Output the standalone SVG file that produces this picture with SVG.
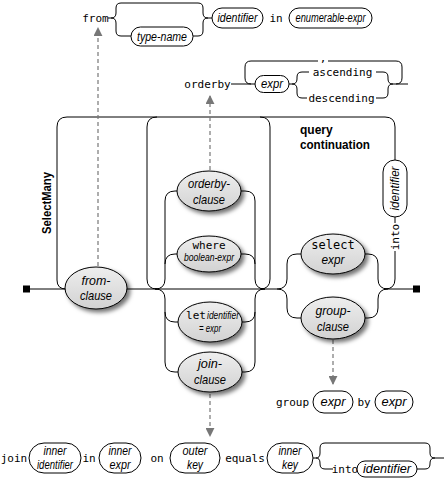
<svg xmlns="http://www.w3.org/2000/svg" width="444" height="490" viewBox="0 0 444 490">
<defs>
<filter id="sh" x="-30%" y="-30%" width="170%" height="180%">
<feDropShadow dx="3" dy="3" stdDeviation="2" flood-color="#000" flood-opacity="0.55"/>
</filter>
<linearGradient id="g" x1="0" y1="0" x2="0" y2="1"><stop offset="0" stop-color="#eeeeee"/><stop offset="1" stop-color="#d2d2d2"/></linearGradient>
<marker id="ar" viewBox="0 0 10 10" refX="9" refY="5" markerWidth="9" markerHeight="9" markerUnits="userSpaceOnUse" orient="auto"><path d="M0,0 L10,5 L0,10 z" fill="#777"/></marker>
</defs>
<style>
.l{fill:none;stroke:#000;stroke-width:1}
.d{fill:none;stroke:#777;stroke-width:1.2;stroke-dasharray:4 3}
.e{fill:url(#g);stroke:#000;stroke-width:1;filter:url(#sh)}
.b{fill:#fff;stroke:#000;stroke-width:1}
.m{font-family:"DejaVu Sans Mono","Liberation Mono",monospace;font-size:11px;fill:#000}
.i{font-family:"Liberation Sans",sans-serif;font-style:italic;font-size:12px;fill:#000}
.s{font-size:10px}
.k{font-family:"Liberation Sans",sans-serif;font-weight:bold;font-size:12px;fill:#000}
text{text-anchor:middle}
</style>

<g id="connectors">
<path class="l" d="M30,289 H277"/>
<path class="l" d="M388,289 H413"/>
<rect x="23" y="285.5" width="7" height="7" fill="#000"/>
<rect x="413" y="285.5" width="7" height="7" fill="#000"/>
<path class="l" d="M66,289 Q57,289 57,280 V127 Q57,117 67,117 H385 Q395,117 395,127 V160"/>
<path class="l" d="M395,217 V223"/>
<path class="l" d="M395,251 V279 Q395,289 385,289"/>
<path class="l" d="M157,117 Q147,117 147,127 V279 Q147,289 157,289"/>
<path class="l" d="M260,117 Q270,117 270,127 V279 Q270,289 260,289"/>
<path class="l" d="M155,289 Q165,289 165,279 V201 Q165,191 175,191 H178"/>
<path class="l" d="M165,264 Q165,254 175,254 H178"/>
<path class="l" d="M155,289 Q165,289 165,299 V362 Q165,372 175,372 H178"/>
<path class="l" d="M165,312 Q165,322 175,322 H178"/>
<path class="l" d="M241,191 H245 Q255,191 255,201 V279 Q255,289 265,289"/>
<path class="l" d="M241,254 H245 Q255,254 255,264"/>
<path class="l" d="M265,289 Q255,289 255,299 V362 Q255,372 245,372 H242"/>
<path class="l" d="M255,312 Q255,322 245,322 H242"/>
<path class="l" d="M277,289 Q287,289 287,279 V264 Q287,254 297,254 H301"/>
<path class="l" d="M277,289 Q287,289 287,299 V308 Q287,318 297,318 H301"/>
<path class="l" d="M365,254 H368 Q378,254 378,264 V279 Q378,289 388,289"/>
<path class="l" d="M365,318 H368 Q378,318 378,308 V299 Q378,289 388,289"/>
<path class="l" d="M108,18 H111 Q116,18 116,13 V8 Q116,3 121,3 H198 Q203,3 203,8 V13 Q203,18 208,18 H212"/>
<path class="l" d="M111,18 Q116,18 116,23 V31 Q116,36 121,36 H131"/>
<path class="l" d="M193,36 H198 Q203,36 203,31 V23 Q203,18 208,18"/>
<path class="l" d="M231,84 H255"/>
<path class="l" d="M251,84 Q245,84 245,78 V67 Q245,61 251,61 H318"/>
<path class="l" d="M328,61 H396 Q402,61 402,67 V78 Q402,84 396,84"/>
<path class="l" d="M289,84 H292 Q297,84 297,79 V77 Q297,72 302,72 H309"/>
<path class="l" d="M376,72 H383 Q388,72 388,77 V79 Q388,84 393,84 H408"/>
<path class="l" d="M292,84 Q297,84 297,89 V93 Q297,98 302,98 H307"/>
<path class="l" d="M376,98 H383 Q388,98 388,93 V89 Q388,84 393,84"/>
<path class="l" d="M313,458 H316 Q320,458 320,453 V448 Q320,443 325,443 H425 Q430,443 430,448 V453 Q430,458 435,458 H444"/>
<path class="l" d="M316,458 Q320,458 320,463 V464 Q320,469 325,469 H333"/>
<path class="l" d="M417,469 H425 Q430,469 430,464 V463 Q430,458 435,458"/>
<path class="d" d="M98,266 V28" marker-end="url(#ar)"/>
<path class="d" d="M210,170 V96" marker-end="url(#ar)"/>
<path class="d" d="M210,394 V436" marker-end="url(#ar)"/>
<path class="d" d="M333,340 V384" marker-end="url(#ar)"/>
</g>

<g id="labels">
<text class="k" transform="translate(51,203) rotate(-90)" textLength="62" lengthAdjust="spacingAndGlyphs">SelectMany</text>
<text class="k" x="300" y="134" style="text-anchor:start">query</text>
<text class="k" x="300" y="149" style="text-anchor:start" textLength="70" lengthAdjust="spacingAndGlyphs">continuation</text>
<text class="m" transform="translate(399,237) rotate(-90)">into</text>
</g>

<g id="into-identifier">
<rect class="b" x="383" y="160" width="24" height="57" rx="12"/>
<text class="i" transform="translate(399,188.5) rotate(-90)" textLength="44" lengthAdjust="spacingAndGlyphs">identifier</text>
</g>

<g id="from-clause">
<ellipse class="e" cx="96" cy="288" rx="31" ry="21"/>
<text class="i" x="96" y="285" style="font-size:13px" textLength="29" lengthAdjust="spacingAndGlyphs">from-</text>
<text class="i" x="96" y="300" style="font-size:13px" textLength="32" lengthAdjust="spacingAndGlyphs">clause</text>
</g>
<g id="orderby-clause">
<ellipse class="e" cx="209" cy="191" rx="32" ry="20"/>
<text class="i" x="209" y="188" style="font-size:13px" textLength="42" lengthAdjust="spacingAndGlyphs">orderby-</text>
<text class="i" x="209" y="204" style="font-size:13px" textLength="32" lengthAdjust="spacingAndGlyphs">clause</text>
</g>
<g id="where-clause">
<ellipse class="e" cx="209" cy="254" rx="32" ry="18"/>
<text class="m" x="209" y="249">where</text>
<text class="i s" x="209" y="261" textLength="50" lengthAdjust="spacingAndGlyphs">boolean-expr</text>
</g>
<g id="let-clause">
<ellipse class="e" cx="210" cy="322" rx="32" ry="20"/>
<text class="m" x="196" y="319">let</text>
<text class="i s" x="223" y="319" textLength="32" lengthAdjust="spacingAndGlyphs">identifier</text>
<text class="i s" x="210" y="332" textLength="22" lengthAdjust="spacingAndGlyphs">= expr</text>
</g>
<g id="join-clause">
<ellipse class="e" cx="210" cy="372" rx="32" ry="20"/>
<text class="i" x="210" y="368" style="font-size:13px" textLength="24" lengthAdjust="spacingAndGlyphs">join-</text>
<text class="i" x="210" y="384" style="font-size:13px" textLength="32" lengthAdjust="spacingAndGlyphs">clause</text>
</g>
<g id="select-clause">
<ellipse class="e" cx="333" cy="254" rx="32" ry="20"/>
<text class="m" x="333" y="249" style="font-size:12px">select</text>
<text class="i" x="333" y="264" style="font-size:13px" textLength="23" lengthAdjust="spacingAndGlyphs">expr</text>
</g>
<g id="group-clause">
<ellipse class="e" cx="333" cy="318" rx="32" ry="21"/>
<text class="i" x="333" y="315" style="font-size:13px" textLength="35" lengthAdjust="spacingAndGlyphs">group-</text>
<text class="i" x="333" y="331" style="font-size:13px" textLength="32" lengthAdjust="spacingAndGlyphs">clause</text>
</g>

<g id="from-syntax">
<text class="m" x="95.5" y="22">from</text>
<rect class="b" x="131" y="27" width="62" height="19" rx="9.5"/>
<text class="i" x="162" y="41" textLength="50" lengthAdjust="spacingAndGlyphs">type-name</text>
<rect class="b" x="212" y="8" width="51" height="20" rx="10"/>
<text class="i" x="237.5" y="22" textLength="40" lengthAdjust="spacingAndGlyphs">identifier</text>
<text class="m" x="276" y="22">in</text>
<rect class="b" x="289" y="8" width="83" height="20" rx="10"/>
<text class="i" x="330.5" y="22" textLength="70" lengthAdjust="spacingAndGlyphs">enumerable-expr</text>
</g>

<g id="orderby-syntax">
<text class="m" x="207.5" y="88">orderby</text>
<text class="m" x="323" y="62">,</text>
<rect class="b" x="255" y="75.5" width="34" height="17" rx="8.5"/>
<text class="i" x="272" y="88" textLength="22" lengthAdjust="spacingAndGlyphs">expr</text>
<text class="m" x="342.5" y="76">ascending</text>
<text class="m" x="341.5" y="102">descending</text>
</g>

<g id="group-syntax">
<text class="m" x="292.5" y="406">group</text>
<rect class="b" x="313" y="391" width="40" height="22" rx="11"/>
<text class="i" x="333" y="406" textLength="25" lengthAdjust="spacingAndGlyphs">expr</text>
<text class="m" x="364" y="406">by</text>
<rect class="b" x="375" y="391" width="38" height="22" rx="11"/>
<text class="i" x="394" y="406" textLength="25" lengthAdjust="spacingAndGlyphs">expr</text>
</g>

<g id="join-syntax">
<text class="m" x="14" y="462">join</text>
<rect class="b" x="29" y="443" width="52" height="30" rx="15"/>
<text class="i" x="55" y="455" textLength="23" lengthAdjust="spacingAndGlyphs">inner</text>
<text class="i" x="55" y="469" textLength="36" lengthAdjust="spacingAndGlyphs">identifier</text>
<text class="m" x="89" y="462">in</text>
<rect class="b" x="99" y="443" width="42" height="30" rx="15"/>
<text class="i" x="120" y="455" textLength="23" lengthAdjust="spacingAndGlyphs">inner</text>
<text class="i" x="120" y="469" textLength="21" lengthAdjust="spacingAndGlyphs">expr</text>
<text class="m" x="157" y="462">on</text>
<rect class="b" x="170" y="443" width="50" height="30" rx="15"/>
<text class="i" x="195" y="455" textLength="25" lengthAdjust="spacingAndGlyphs">outer</text>
<text class="i" x="195" y="469" textLength="16" lengthAdjust="spacingAndGlyphs">key</text>
<text class="m" x="245" y="462">equals</text>
<rect class="b" x="267" y="443" width="46" height="30" rx="15"/>
<text class="i" x="290" y="455" textLength="23" lengthAdjust="spacingAndGlyphs">inner</text>
<text class="i" x="290" y="469" textLength="16" lengthAdjust="spacingAndGlyphs">key</text>
<text class="m" x="345" y="473">into</text>
<rect class="b" x="357" y="461" width="60" height="16" rx="8"/>
<text class="i" x="387" y="473" textLength="48" lengthAdjust="spacingAndGlyphs">identifier</text>
</g>
</svg>
